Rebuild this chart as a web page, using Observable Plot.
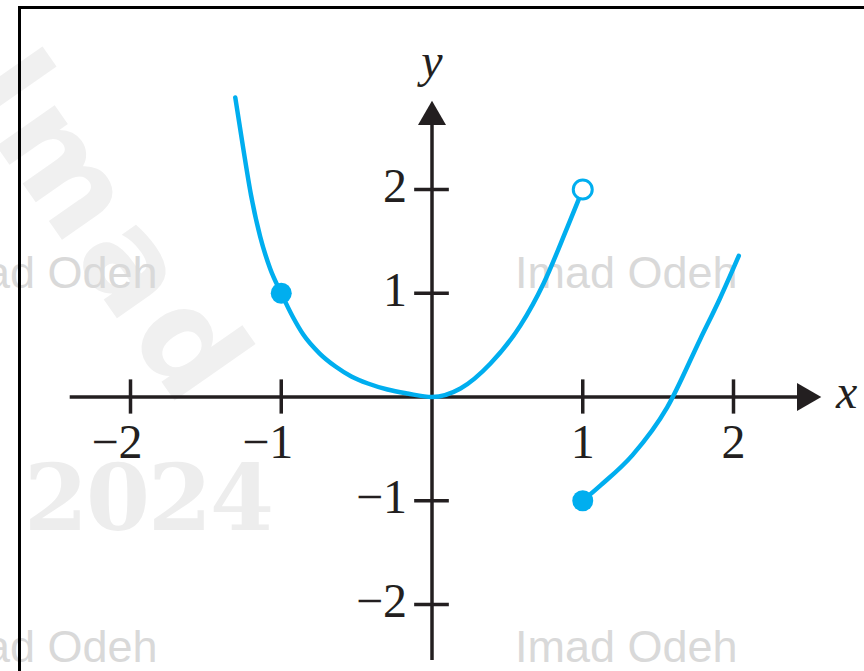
<!DOCTYPE html>
<html><head><meta charset="utf-8">
<script src="https://cdn.jsdelivr.net/npm/d3@7"></script>
<script src="https://cdn.jsdelivr.net/npm/@observablehq/plot@0.6"></script>
<style>
html,body{margin:0;padding:0;background:#fff;}
#wrap{position:relative;width:864px;height:671px;overflow:hidden;background:#fff;}
.wm{position:absolute;font-family:"Liberation Sans",Arial,sans-serif;font-size:45px;color:#d9d9d9;white-space:nowrap;line-height:1;}
.big{position:absolute;font-family:"DejaVu Serif",serif;font-weight:bold;font-size:92px;color:#ededed;white-space:nowrap;line-height:1;letter-spacing:-2px;}
.rot{position:absolute;font-family:"DejaVu Sans",sans-serif;font-weight:bold;font-size:130px;color:#f0f0f0;white-space:nowrap;line-height:1;transform-origin:0 0;transform:rotate(55deg);letter-spacing:8px;}
#frame{position:absolute;left:18px;top:6px;width:900px;height:700px;border-left:3px solid #000;border-top:3px solid #000;}
#chart{position:absolute;left:0;top:0;}
</style></head><body>
<div id="wrap">
  <div class="rot" style="left:48px;top:28px;">Imad</div>
  <div class="big" style="left:24px;top:452px;">2024</div>
  <div class="wm" style="left:515px;top:250px;">Imad Odeh</div>
  <div class="wm" style="left:-65px;top:250px;">Imad Odeh</div>
  <div class="wm" style="left:515px;top:624px;">Imad Odeh</div>
  <div class="wm" style="left:-65px;top:624px;">Imad Odeh</div>
  <div id="frame"></div>
  <div id="chart"></div>
</div>
<script>
// ---- data ----
const leftX  = [-1.305, -1.252, -1.200, -1.140, -1.074, -1, -0.921, -0.854, -0.745, -0.640, -0.535, -0.425, -0.295, -0.163, 0, 0.189, 0.388, 0.587, 0.740, 0.899, 1];
const leftY  = [ 2.887,  2.395,  1.942,  1.547,  1.239,  1,  0.766,  0.602,  0.419,  0.294,  0.198,  0.130,  0.072,  0.034, 0, 0.082, 0.323, 0.690, 1.094, 1.640, 2];
const rightX = [1, 1.12, 1.33, 1.56, 1.78, 1.91, 2.035];
const rightY = [-1, -0.85, -0.56, -0.10, 0.56, 0.95, 1.36];
const closedPoints = [{x: -1, y: 1}, {x: 1, y: -1}];
const openPoints = [{x: 1, y: 2}];
const xTicks = [-2, -1, 1, 2];
const yTicks = [-2, -1, 1, 2];
const tickLabel = v => (v < 0 ? "\u2212" + Math.abs(v) : String(v));
const xAxisLabel = "x";
const yAxisLabel = "y";

const leftCurve = leftX.map((x, i) => ({x, y: leftY[i]}));
const rightCurve = rightX.map((x, i) => ({x, y: rightY[i]}));

const ink = "#231f20";
const blue = "#00aeef";
const serif = "Liberation Serif, Times New Roman, serif";

const chart = Plot.plot({
  width: 864,
  height: 671,
  marginLeft: 130,
  marginRight: 131,
  marginTop: 189,
  marginBottom: 67,
  style: {background: "transparent", overflow: "visible"},
  x: {domain: [-2, 2], axis: null},
  y: {domain: [-2, 2], axis: null},
  marks: [
    // axes
    Plot.ruleY([0], {x1: -2.4, x2: 2.45, stroke: ink, strokeWidth: 3.5}),
    Plot.ruleX([0], {y1: -2.54, y2: 2.62, stroke: ink, strokeWidth: 3.5}),
    Plot.dot([{x: 0, y: 2.7}], {x: "x", y: "y", symbol: "triangle", r: 10.4, fill: ink, stroke: null}),
    Plot.dot([{x: 2.475, y: 0}], {x: "x", y: "y", symbol: "triangle", r: 10.4, rotate: 90, fill: ink, stroke: null}),
    // ticks
    Plot.ruleX(xTicks, {x: d => d, y1: -0.165, y2: 0.165, stroke: ink, strokeWidth: 3.5}),
    Plot.ruleY(yTicks, {y: d => d, x1: -0.115, x2: 0.115, stroke: ink, strokeWidth: 3.5}),
    // tick labels
    Plot.text(xTicks, {x: d => d, y: 0, text: tickLabel, textAnchor: "end", dx: 12, dy: 46, lineAnchor: "middle",
      fontFamily: serif, fontSize: 48, fill: ink}),
    Plot.text(yTicks, {x: 0, y: d => d, text: tickLabel, textAnchor: "end", dx: -25, dy: -3, lineAnchor: "middle",
      fontFamily: serif, fontSize: 48, fill: ink}),
    // axis names
    Plot.text([xAxisLabel], {x: 2.68, y: 0, text: d => d, textAnchor: "start", dy: -4, lineAnchor: "middle",
      fontFamily: serif, fontStyle: "italic", fontSize: 48, fill: ink}),
    Plot.text([yAxisLabel], {x: 0, y: 2.62, text: d => d, textAnchor: "middle", dy: -64, lineAnchor: "middle",
      fontFamily: serif, fontStyle: "italic", fontSize: 48, fill: ink}),
    // curves
    Plot.line(leftCurve, {x: "x", y: "y", curve: "monotone-x", stroke: blue, strokeWidth: 4.5}),
    Plot.line(rightCurve, {x: "x", y: "y", curve: "monotone-x", stroke: blue, strokeWidth: 4.5}),
    Plot.dot(closedPoints, {x: "x", y: "y", r: 10.5, fill: blue, stroke: null}),
    Plot.dot(openPoints, {x: "x", y: "y", r: 9.5, fill: "white", stroke: blue, strokeWidth: 3})
  ]
});
document.getElementById("chart").appendChild(chart);
</script>
</body></html>
